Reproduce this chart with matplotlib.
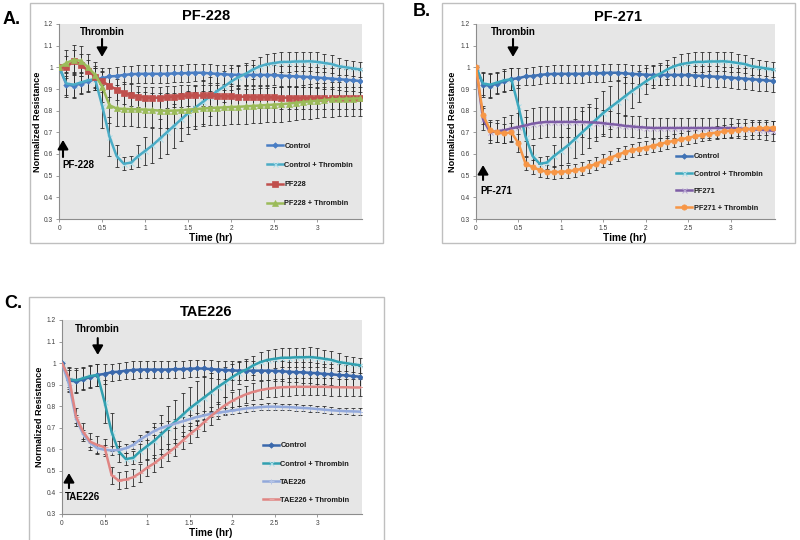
import numpy as np
import matplotlib
matplotlib.use("Agg")
import matplotlib.pyplot as plt
from matplotlib.patches import Rectangle
from matplotlib.lines import Line2D

plt.rcParams['font.family'] = ['Liberation Sans', 'DejaVu Sans']

# ---------------- data ----------------
time_min = [0, 5, 10, 15, 20, 25, 30, 35, 40, 45, 50, 55, 60, 65, 70, 75, 80, 85, 90, 95,
            100, 105, 110, 115, 120, 125, 130, 135, 140, 145, 150, 155, 160, 165, 170, 175,
            180, 185, 190, 195, 200, 205, 210]

control = [1.00, 0.92, 0.915, 0.925, 0.935, 0.945, 0.95, 0.958, 0.96, 0.965, 0.968, 0.97, 0.97, 0.97,
           0.97, 0.97, 0.972, 0.972, 0.974, 0.975, 0.975, 0.972, 0.97, 0.968, 0.966, 0.965, 0.965, 0.965,
           0.965, 0.965, 0.964, 0.962, 0.96, 0.958, 0.957, 0.955, 0.953, 0.95, 0.948, 0.945, 0.943, 0.94, 0.937]
control_err = [0.0, 0.055, 0.055, 0.05, 0.05, 0.05, 0.045, 0.04, 0.04, 0.04, 0.04, 0.04, 0.04, 0.04,
               0.04, 0.04, 0.04, 0.04, 0.04, 0.04, 0.04, 0.042, 0.042, 0.044, 0.044, 0.045, 0.045, 0.045,
               0.045, 0.045, 0.045, 0.046, 0.046, 0.047, 0.047, 0.048, 0.048, 0.048, 0.049, 0.05, 0.05, 0.05, 0.05]

control_thr = [1.00, 0.925, 0.92, 0.93, 0.94, 0.945, 0.82, 0.68, 0.59, 0.555, 0.56, 0.59, 0.615, 0.64,
               0.67, 0.70, 0.73, 0.76, 0.79, 0.815, 0.84, 0.865, 0.89, 0.912, 0.935, 0.955, 0.97, 0.99,
               1.005, 1.015, 1.02, 1.025, 1.025, 1.027, 1.027, 1.028, 1.025, 1.02, 1.015, 1.005, 1.0, 0.995, 0.99]
control_thr_err = [0.0, 0.055, 0.055, 0.05, 0.05, 0.05, 0.1, 0.09, 0.05, 0.03, 0.03, 0.05, 0.065, 0.08,
                   0.09, 0.1, 0.1, 0.1, 0.1, 0.1, 0.1, 0.09, 0.08, 0.07, 0.06, 0.05, 0.05, 0.045,
                   0.045, 0.045, 0.045, 0.045, 0.045, 0.045, 0.045, 0.045, 0.045, 0.04, 0.04, 0.04, 0.035, 0.035, 0.035]

pf228 = [1.0, 1.0, 1.03, 1.012, 0.985, 0.957, 0.935, 0.915, 0.897, 0.882, 0.872, 0.865, 0.86, 0.86,
         0.86, 0.862, 0.865, 0.867, 0.87, 0.87, 0.87, 0.87, 0.868, 0.867, 0.866, 0.865, 0.864, 0.863,
         0.862, 0.862, 0.861, 0.86, 0.86, 0.859, 0.858, 0.858, 0.857, 0.857, 0.857, 0.857, 0.857, 0.857, 0.857]
pf228_err = [0.0] + [0.05] * 42

pf228_thr = [1.0, 1.02, 1.035, 1.03, 1.0, 0.965, 0.91, 0.825, 0.81, 0.808, 0.807, 0.806, 0.805, 0.803,
             0.80, 0.80, 0.80, 0.802, 0.805, 0.807, 0.81, 0.812, 0.814, 0.815, 0.817, 0.818, 0.82, 0.822,
             0.824, 0.826, 0.828, 0.83, 0.833, 0.836, 0.84, 0.843, 0.846, 0.849, 0.852, 0.854, 0.855, 0.856, 0.857]
pf228_thr_err = [0.0, 0.06, 0.07, 0.07, 0.06, 0.06, 0.07] + [0.08] * 36

pf271 = [1.0, 0.76, 0.70, 0.705, 0.71, 0.718, 0.725, 0.732, 0.74, 0.745, 0.748, 0.748, 0.748, 0.748,
         0.748, 0.748, 0.746, 0.745, 0.742, 0.738, 0.735, 0.73, 0.727, 0.724, 0.722, 0.72, 0.72, 0.72,
         0.72, 0.72, 0.72, 0.72, 0.72, 0.72, 0.72, 0.72, 0.72, 0.718, 0.716, 0.714, 0.712, 0.71, 0.707]
pf271_err = [0.0, 0.05, 0.05, 0.05, 0.06, 0.06, 0.065, 0.07, 0.07, 0.07, 0.07, 0.07, 0.07, 0.07,
             0.07, 0.07, 0.07, 0.065, 0.06, 0.06, 0.055, 0.05, 0.05, 0.05, 0.045, 0.045, 0.045, 0.045,
             0.045, 0.045, 0.045, 0.045, 0.045, 0.045, 0.045, 0.045, 0.045, 0.045, 0.045, 0.045, 0.045, 0.045, 0.045]

pf271_thr = [1.0, 0.78, 0.71, 0.70, 0.695, 0.70, 0.65, 0.555, 0.54, 0.526, 0.518, 0.516, 0.518, 0.52,
             0.525, 0.532, 0.543, 0.555, 0.57, 0.583, 0.596, 0.608, 0.617, 0.624, 0.63, 0.638, 0.646, 0.654,
             0.661, 0.668, 0.675, 0.682, 0.688, 0.694, 0.699, 0.704, 0.708, 0.711, 0.714, 0.716, 0.718, 0.72, 0.722]
pf271_thr_err = [0.0, 0.04, 0.045, 0.045, 0.045, 0.045, 0.04] + [0.03] * 36

tae226 = [1.0, 0.9, 0.74, 0.67, 0.63, 0.605, 0.598, 0.595, 0.597, 0.605, 0.62, 0.645, 0.665, 0.685,
          0.70, 0.71, 0.72, 0.73, 0.74, 0.75, 0.757, 0.765, 0.77, 0.775, 0.78, 0.785, 0.79, 0.793,
          0.796, 0.798, 0.798, 0.797, 0.796, 0.794, 0.792, 0.79, 0.787, 0.784, 0.781, 0.779, 0.777, 0.776, 0.775]
tae226_err = [0.0] + [0.02] * 20 + [0.015] * 22

tae226_thr = [1.0, 0.93, 0.75, 0.68, 0.635, 0.62, 0.61, 0.48, 0.455, 0.46, 0.47, 0.49, 0.515, 0.535,
              0.56, 0.585, 0.61, 0.64, 0.67, 0.695, 0.725, 0.755, 0.78, 0.805, 0.825, 0.842, 0.856, 0.867,
              0.875, 0.881, 0.885, 0.888, 0.889, 0.89, 0.89, 0.89, 0.89, 0.89, 0.889, 0.888, 0.888, 0.887, 0.887]
tae226_thr_err = [0.0] + [0.04] * 42

x_ticks = [0, 0.5, 1, 1.5, 2, 2.5, 3]
x_tick_labels = ['0', '0.5', '1', '1.5', '2', '2.5', '3']
y_ticks = [0.3, 0.4, 0.5, 0.6, 0.7, 0.8, 0.9, 1.0, 1.1, 1.2]
y_tick_labels = ['0.3', '0.4', '0.5', '0.6', '0.7', '0.8', '0.9', '1', '1.1', '1.2']

T = np.array(time_min) / 60.0

# ---------------- figure ----------------
W, H = 800, 540
fig = plt.figure(figsize=(8, 5.4), dpi=100)
fig.patch.set_facecolor('white')


def px_rect(x0, y0, x1, y1):
    return [x0 / W, 1 - y1 / H, (x1 - x0) / W, (y1 - y0) / H]


# chart frames
for (x0, y0, x1, y1) in [(30, 3, 383, 243), (442, 3, 795, 243), (29, 297, 384, 541)]:
    r = Rectangle((x0 / W, 1 - y1 / H), (x1 - x0) / W, (y1 - y0) / H, transform=fig.transFigure,
                  facecolor='white', edgecolor='#BFBFBF', lw=1.0, zorder=-5)
    fig.add_artist(r)

XMAX = 3.52
axA = fig.add_axes(px_rect(59.3, 24, 59.3 + XMAX * 86.0, 219))
axB = fig.add_axes(px_rect(476, 24, 476 + XMAX * 84.9, 219))
axC = fig.add_axes(px_rect(62, 320, 62 + XMAX * 85.1, 514))

for ax in (axA, axB, axC):
    ax.set_facecolor('#E6E6E6')
    ax.set_xlim(0, XMAX)
    ax.set_ylim(0.3, 1.2)
    ax.set_xticks(x_ticks)
    ax.set_xticklabels(x_tick_labels)
    ax.set_yticks(y_ticks)
    ax.set_yticklabels(y_tick_labels)
    for s in ('top', 'right'):
        ax.spines[s].set_visible(False)
    for s in ('left', 'bottom'):
        ax.spines[s].set_color('#8C8C8C')
        ax.spines[s].set_linewidth(0.8)
    ax.tick_params(axis='both', length=2.5, width=0.6, color='#8C8C8C', labelsize=4.8,
                   labelcolor='#404040', pad=2)

ERR_KW = dict(fmt='none', ecolor='#2B2B2B', elinewidth=0.6, capsize=1.6, capthick=0.6, zorder=2)
THIN = ('x', '+', '_')


def draw(ax, series, xf, yf, sp):
    handles = []
    for y, e, *_ in series:
        ax.errorbar(T, y, yerr=e, **ERR_KW)
    for y, e, col, mk, mec, ms, lab in series:
        if mk in THIN:
            # light marks under a solid line
            ax.plot(T, y, ls='none', marker=mk, ms=ms, mec=mec, mew=0.7, zorder=3)
            ax.plot(T, y, color=col, lw=1.8, zorder=3.2)
            h = Line2D([], [], color=col, lw=1.8, marker=mk, ms=ms, mec=mec, mew=0.7)
        else:
            ax.plot(T, y, color=col, lw=1.8, marker=mk, ms=ms, mfc=col, mec=col, mew=0.5, zorder=3.2)
            h = Line2D([], [], color=col, lw=1.8, marker=mk, ms=ms, mfc=col, mec=col, mew=0.5)
        handles.append((h, lab))
    leg = ax.legend([h for h, _ in handles], [l for _, l in handles], loc='center left',
                    bbox_to_anchor=(xf, yf), frameon=False, borderpad=0, borderaxespad=0,
                    handlelength=2.2, handletextpad=0.15, labelspacing=sp,
                    prop=dict(family='Liberation Sans', weight='bold', size=5.3))
    for t in leg.get_texts():
        t.set_color('#1A1A1A')


draw(axA, [
    (control, control_err, '#4A7EC4', 'D', None, 2.8, 'Control'),
    (control_thr, control_thr_err, '#4BACC6', 'x', '#A9DEEA', 3.6, 'Control + Thrombin'),
    (pf228, pf228_err, '#C0504D', 's', None, 3.8, 'PF228'),
    (pf228_thr, pf228_thr_err, '#9BBB59', '^', None, 3.8, 'PF228 + Thrombin'),
], 0.686, 0.226, 1.65)
draw(axB, [
    (control, control_err, '#3F72B5', 'D', None, 2.8, 'Control'),
    (control_thr, control_thr_err, '#3DA8BE', 'x', '#A9DEEA', 3.6, 'Control + Thrombin'),
    (pf271, pf271_err, '#7E5DA6', 'x', '#B8A6D3', 3.6, 'PF271'),
    (pf271_thr, pf271_thr_err, '#F79646', 'o', None, 3.8, 'PF271 + Thrombin'),
], 0.67, 0.187, 1.35)
draw(axC, [
    (control, control_err, '#3A68AC', 'D', None, 2.8, 'Control'),
    (control_thr, control_thr_err, '#31A0B0', 'x', '#A9DEEA', 3.6, 'Control + Thrombin'),
    (tae226, tae226_err, '#93A9DB', '+', '#B5C4E8', 3.6, 'TAE226'),
    (tae226_thr, tae226_thr_err, '#E08583', '_', '#EAA8A6', 3.6, 'TAE226 + Thrombin'),
], 0.671, 0.211, 1.5)


# axis labels and titles (figure pixels)
def ftext(x, y, s, **kw):
    fig.text(x / W, 1 - y / H, s, **kw)


for (tx, ty, title) in ((206.5, 16.5, 'PF-228'), (618, 17, 'PF-271'), (206.5, 311.5, 'TAE226')):
    ftext(tx, ty, title, ha='center', va='center', fontsize=10.5, weight='bold')
for (lx, ly) in ((38, 122), (452.5, 122), (39, 417)):
    ftext(lx, ly, 'Normalized Resistance', ha='center', va='center', rotation=90, fontsize=6.6, weight='bold')
for (lx, ly) in ((210.6, 237.5), (624.5, 237.5), (211, 532.5)):
    ftext(lx, ly, 'Time (hr)', ha='center', va='center', fontsize=7.3, weight='bold')

ftext(3, 19, 'A.', ha='left', va='center', fontsize=13, weight='bold')
ftext(413, 11, 'B.', ha='left', va='center', fontsize=13, weight='bold')
ftext(4, 303, 'C.', ha='left', va='center', fontsize=13, weight='bold')

ARROW = dict(arrowstyle='-|>,head_width=0.35,head_length=0.6', color='black', lw=1.5,
             shrinkA=0, shrinkB=0, mutation_scale=9)


def marker_note(ax, x, y_tail, y_head, label, lx, ly, ha):
    ax.annotate('', xy=(x, y_head), xytext=(x, y_tail), arrowprops=ARROW)
    ax.text(lx, ly, label, ha=ha, va='center', fontsize=7, weight='bold')


marker_note(axA, 0.497, 1.131, 1.048, 'Thrombin', 0.5, 1.163, 'center')
marker_note(axA, 0.043, 0.586, 0.665, 'PF-228', 0.03, 0.549, 'left')
marker_note(axB, 0.436, 1.131, 1.048, 'Thrombin', 0.436, 1.163, 'center')
marker_note(axB, 0.083, 0.48, 0.549, 'PF-271', 0.047, 0.429, 'left')
marker_note(axC, 0.42, 1.116, 1.038, 'Thrombin', 0.42, 1.158, 'center')
marker_note(axC, 0.082, 0.42, 0.49, 'TAE226', 0.035, 0.379, 'left')

fig.savefig('out.png', dpi=100)
